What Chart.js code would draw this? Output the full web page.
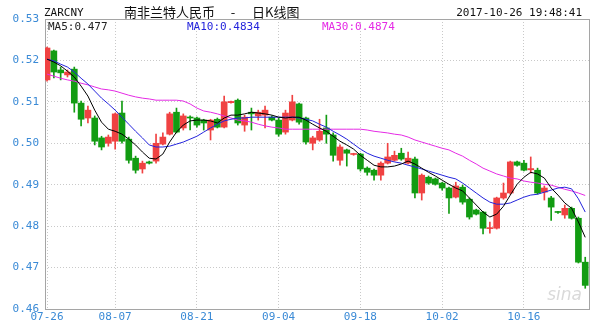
<!DOCTYPE html>
<html>
<head>
<meta charset="utf-8">
<script src="https://cdn.jsdelivr.net/npm/chart.js@4/dist/chart.umd.min.js"></script>
<style>
    html, body { margin: 0; padding: 0; background: #fff; }
    #wrap { width: 600px; height: 326px; }
</style>
</head>
<body>
<div id="wrap"><canvas id="chartK" width="600" height="326"></canvas></div>
<script>
// K线 ZARCNY, 07-26 .. 10-26
const ROTULOS_X = ['07-26', '08-07', '08-21', '09-04', '09-18', '10-02', '10-16'];
const INDICE_ROTULOS = [0, 10, 22, 34, 46, 58, 70];
const ROTULOS_Y = [0.46, 0.47, 0.48, 0.49, 0.50, 0.51, 0.52, 0.53];

const abertura = [
    0.5153, 0.5223, 0.5177, 0.5165, 0.5179, 0.5097, 0.5061, 0.5061, 0.5013, 0.5000,
    0.5005, 0.5073, 0.5010, 0.4964, 0.4938, 0.4955, 0.4957, 0.4998, 0.5022, 0.5075,
    0.5037, 0.5063, 0.5061, 0.5056, 0.5032, 0.5058, 0.5039, 0.5098, 0.5104, 0.5044,
    0.5075, 0.5066, 0.5068, 0.5063, 0.5056, 0.5027, 0.5056, 0.5095, 0.5061, 0.5000,
    0.5008, 0.5037, 0.5020, 0.4959, 0.4984, 0.4973, 0.4974, 0.4940, 0.4935, 0.4923,
    0.4952, 0.4959, 0.4976, 0.4952, 0.4962, 0.4880, 0.4918, 0.4914, 0.4904, 0.4892,
    0.4870, 0.4894, 0.4865, 0.4839, 0.4834, 0.4794, 0.4795, 0.4868, 0.4880, 0.4955,
    0.4952, 0.4936, 0.4935, 0.4882, 0.4868, 0.4835, 0.4827, 0.4843, 0.4819, 0.4713
];
const fechamento = [
    0.5230, 0.5172, 0.5170, 0.5172, 0.5097, 0.5058, 0.5080, 0.5005, 0.4991, 0.5015,
    0.5071, 0.5005, 0.4959, 0.4935, 0.4952, 0.4952, 0.5000, 0.5015, 0.5071, 0.5027,
    0.5066, 0.5061, 0.5044, 0.5049, 0.5056, 0.5039, 0.5100, 0.5101, 0.5049, 0.5063,
    0.5071, 0.5075, 0.5080, 0.5056, 0.5022, 0.5073, 0.5100, 0.5051, 0.5003, 0.5013,
    0.5029, 0.5022, 0.4971, 0.4991, 0.4976, 0.4975, 0.4938, 0.4930, 0.4923, 0.4952,
    0.4967, 0.4971, 0.4962, 0.4964, 0.4880, 0.4923, 0.4904, 0.4901, 0.4892, 0.4868,
    0.4897, 0.4858, 0.4822, 0.4829, 0.4795, 0.4796, 0.4868, 0.4880, 0.4955, 0.4947,
    0.4935, 0.4939, 0.4880, 0.4892, 0.4846, 0.4833, 0.4843, 0.4819, 0.4713, 0.4657
];
const maxima = [
    0.5232, 0.5225, 0.5184, 0.5177, 0.5184, 0.5102, 0.5090, 0.5066, 0.5017, 0.5020,
    0.5073, 0.5102, 0.5015, 0.4969, 0.4957, 0.4957, 0.5022, 0.5025, 0.5075, 0.5085,
    0.5071, 0.5066, 0.5063, 0.5058, 0.5058, 0.5061, 0.5114, 0.5102, 0.5107, 0.5068,
    0.5085, 0.5080, 0.5090, 0.5066, 0.5061, 0.5080, 0.5116, 0.5097, 0.5063, 0.5017,
    0.5058, 0.5068, 0.5025, 0.4996, 0.4986, 0.4976, 0.4976, 0.4943, 0.4938, 0.4955,
    0.5000, 0.4981, 0.4988, 0.4979, 0.4967, 0.4926, 0.4921, 0.4916, 0.4906, 0.4894,
    0.4906, 0.4899, 0.4868, 0.4841, 0.4836, 0.4810, 0.4870, 0.4904, 0.4957, 0.4957,
    0.4959, 0.4967, 0.4940, 0.4897, 0.4872, 0.4836, 0.4851, 0.4846, 0.4822, 0.4725
];
const minima = [
    0.5150, 0.5158, 0.5153, 0.5160, 0.5075, 0.5042, 0.5049, 0.4996, 0.4984, 0.4993,
    0.4986, 0.5000, 0.4952, 0.4928, 0.4928, 0.4950, 0.4952, 0.4996, 0.5020, 0.5025,
    0.5032, 0.5032, 0.5039, 0.5032, 0.5008, 0.5037, 0.5037, 0.5097, 0.5044, 0.5029,
    0.5032, 0.5056, 0.5037, 0.5054, 0.5017, 0.5022, 0.5054, 0.5046, 0.4998, 0.4984,
    0.5005, 0.5000, 0.4957, 0.4947, 0.4945, 0.4971, 0.4933, 0.4923, 0.4911, 0.4911,
    0.4950, 0.4957, 0.4959, 0.4950, 0.4868, 0.4863, 0.4901, 0.4899, 0.4887, 0.4831,
    0.4868, 0.4853, 0.4817, 0.4827, 0.4781, 0.4783, 0.4793, 0.4865, 0.4877, 0.4945,
    0.4933, 0.4928, 0.4877, 0.4863, 0.4814, 0.4831, 0.4819, 0.4817, 0.4711, 0.4650
];

const ma5 = [
    0.5203, 0.5196, 0.5187, 0.5174, 0.5160, 0.5138, 0.5114, 0.5080, 0.5051, 0.5034,
    0.5029, 0.5022, 0.5010, 0.4996, 0.4979, 0.4964, 0.4962, 0.4974, 0.5003, 0.5027,
    0.5044, 0.5054, 0.5056, 0.5056, 0.5054, 0.5049, 0.5061, 0.5068, 0.5068, 0.5071,
    0.5075, 0.5073, 0.5071, 0.5068, 0.5063, 0.5061, 0.5063, 0.5063, 0.5056, 0.5046,
    0.5037, 0.5029, 0.5017, 0.5005, 0.4996, 0.4986, 0.4971, 0.4959, 0.4947, 0.4943,
    0.4943, 0.4945, 0.4950, 0.4957, 0.4950, 0.4940, 0.4930, 0.4921, 0.4911, 0.4901,
    0.4892, 0.4885, 0.4868, 0.4851, 0.4834, 0.4822, 0.4829, 0.4848, 0.4875, 0.4901,
    0.4918, 0.4930, 0.4926, 0.4916, 0.4892, 0.4875, 0.4856, 0.4843, 0.4810, 0.4773
];
const ma10 = [
    0.5203, 0.5199, 0.5191, 0.5184, 0.5172, 0.5157, 0.5143, 0.5126, 0.5109, 0.5095,
    0.5080, 0.5063, 0.5046, 0.5029, 0.5013, 0.4996, 0.4991, 0.4991, 0.4993, 0.4998,
    0.5003, 0.5010, 0.5017, 0.5027, 0.5037, 0.5046, 0.5054, 0.5058, 0.5061, 0.5061,
    0.5063, 0.5063, 0.5063, 0.5063, 0.5063, 0.5063, 0.5063, 0.5061, 0.5058, 0.5054,
    0.5046, 0.5039, 0.5029, 0.5020, 0.5010, 0.4998, 0.4986, 0.4976, 0.4969, 0.4964,
    0.4959, 0.4955, 0.4952, 0.4947, 0.4943, 0.4938, 0.4933, 0.4928, 0.4923, 0.4918,
    0.4914, 0.4904, 0.4892, 0.4880, 0.4868, 0.4858, 0.4853, 0.4853, 0.4856, 0.4863,
    0.4870, 0.4875, 0.4877, 0.4882, 0.4887, 0.4892, 0.4894, 0.4890, 0.4866, 0.4834
];
const ma30 = [
    0.5167, 0.5162, 0.5157, 0.5153, 0.5150, 0.5145, 0.5141, 0.5136, 0.5131, 0.5129,
    0.5126, 0.5121, 0.5116, 0.5112, 0.5109, 0.5107, 0.5104, 0.5104, 0.5104, 0.5104,
    0.5102, 0.5095, 0.5085, 0.5078, 0.5075, 0.5071, 0.5066, 0.5061, 0.5056, 0.5054,
    0.5051, 0.5046, 0.5042, 0.5039, 0.5037, 0.5034, 0.5034, 0.5034, 0.5034, 0.5034,
    0.5034, 0.5034, 0.5034, 0.5034, 0.5034, 0.5034, 0.5034, 0.5032, 0.5029, 0.5027,
    0.5025, 0.5022, 0.5020, 0.5015, 0.5008, 0.5003, 0.4998, 0.4993, 0.4988, 0.4984,
    0.4976, 0.4969, 0.4959, 0.4950, 0.4940, 0.4933, 0.4926, 0.4921, 0.4916, 0.4914,
    0.4909, 0.4906, 0.4904, 0.4901, 0.4899, 0.4894, 0.4889, 0.4885, 0.4880, 0.4874
];

const CORES = {
    alta: '#f04242',
    baixa: '#129c12',
    ma5: '#000000',
    ma10: '#2323dc',
    ma30: '#e52ae5',
    eixo: '#3a8ad6',
    grade: '#c9c9c9',
    borda: '#a5a5a5',
    texto: '#111111'
};

const FONTE_MONO = '"DejaVu Sans Mono", "Liberation Mono", monospace';

const corCandle = (i) => fechamento[i] >= abertura[i] ? CORES.alta : CORES.baixa;
const pontos = (arr) => arr.map((v, i) => ({ x: i, y: v }));

// ========== MOLDURA E TEXTOS ==========
const moldura = {
    id: 'moldura',
    beforeDatasetsDraw(chart) {
        const { ctx, chartArea: a } = chart;
        ctx.save();
        ctx.strokeStyle = CORES.borda;
        ctx.lineWidth = 1;
        ctx.strokeRect(a.left + 0.5, a.top + 0.5, a.right - a.left - 1, a.bottom - a.top);
        ctx.restore();
    },
    afterDraw(chart) {
        const { ctx } = chart;
        ctx.save();
        ctx.textBaseline = 'middle';

        ctx.font = '11px ' + FONTE_MONO;
        ctx.fillStyle = CORES.texto;
        ctx.textAlign = 'left';
        ctx.fillText('ZARCNY', 44, 13);
        ctx.textAlign = 'right';
        ctx.fillText('2017-10-26 19:48:41', 582, 13);

        ctx.font = '13px "Noto Sans CJK SC", sans-serif';
        ctx.textAlign = 'left';
        ctx.fillText('南非兰特人民币', 124, 12);
        ctx.textAlign = 'center';
        ctx.fillText('-', 233, 12);
        ctx.textAlign = 'left';
        ctx.fillText('日K线图', 252, 12);

        ctx.font = '11px ' + FONTE_MONO;
        ctx.fillStyle = '#222';
        ctx.fillText('MA5:0.477', 48, 27);
        ctx.fillStyle = CORES.ma10;
        ctx.fillText('MA10:0.4834', 187, 27);
        ctx.fillStyle = CORES.ma30;
        ctx.fillText('MA30:0.4874', 322, 27);

        // marca d'água
        ctx.font = 'italic 17px "DejaVu Sans", sans-serif';
        ctx.fillStyle = 'rgba(170,170,170,0.45)';
        ctx.textAlign = 'right';
        ctx.fillText('sina', 582, 296);
        ctx.restore();
    }
};

function criarGraficoK() {
    const ctx = document.getElementById('chartK').getContext('2d');
    return new Chart(ctx, {
        type: 'bar',
        data: {
            datasets: [
                {
                    type: 'line', label: 'MA5', data: pontos(ma5),
                    borderColor: CORES.ma5, borderWidth: 1, pointRadius: 0, tension: 0, order: 0
                },
                {
                    type: 'line', label: 'MA10', data: pontos(ma10),
                    borderColor: CORES.ma10, borderWidth: 1, pointRadius: 0, tension: 0, order: 0
                },
                {
                    type: 'line', label: 'MA30', data: pontos(ma30),
                    borderColor: CORES.ma30, borderWidth: 1, pointRadius: 0, tension: 0, order: 0
                },
                {
                    label: 'corpo',
                    data: abertura.map((a, i) => ({ x: i, y: [a, fechamento[i]] })),
                    backgroundColor: (c) => corCandle(c.dataIndex),
                    barThickness: 6,
                    minBarLength: 1,
                    grouped: false,
                    order: 1
                },
                {
                    label: 'pavio',
                    data: minima.map((m, i) => ({ x: i, y: [m, maxima[i]] })),
                    backgroundColor: (c) => corCandle(c.dataIndex),
                    barThickness: 1,
                    grouped: false,
                    order: 2
                }
            ]
        },
        options: {
            responsive: false,
            animation: false,
            devicePixelRatio: 1,
            layout: { padding: { top: 19, right: 10, left: 0, bottom: 0 } },
            plugins: { legend: { display: false }, tooltip: { enabled: false } },
            scales: {
                x: {
                    type: 'linear',
                    min: -0.3,
                    max: 79.7,
                    offset: false,
                    afterBuildTicks: (s) => { s.ticks = INDICE_ROTULOS.map(v => ({ value: v })); },
                    afterFit: (s) => { s.height = 17; },
                    ticks: {
                        autoSkip: false,
                        maxRotation: 0,
                        padding: 2,
                        color: CORES.eixo,
                        font: { family: FONTE_MONO, size: 11 },
                        callback: (v) => ROTULOS_X[INDICE_ROTULOS.indexOf(v)] || ''
                    },
                    grid: { color: CORES.grade, drawTicks: false, offset: false },
                    border: { display: false, dash: [1, 2] }
                },
                y: {
                    min: 0.46,
                    max: 0.53,
                    afterBuildTicks: (s) => { s.ticks = ROTULOS_Y.map(v => ({ value: v })); },
                    afterFit: (s) => { s.width = 45; },
                    ticks: {
                        padding: 6,
                        color: CORES.eixo,
                        font: { family: FONTE_MONO, size: 11 },
                        callback: (v) => Number(v).toFixed(2)
                    },
                    grid: { color: CORES.grade, drawTicks: false },
                    border: { display: false, dash: [1, 2] }
                }
            }
        },
        plugins: [moldura]
    });
}

criarGraficoK();
</script>
</body>
</html>
